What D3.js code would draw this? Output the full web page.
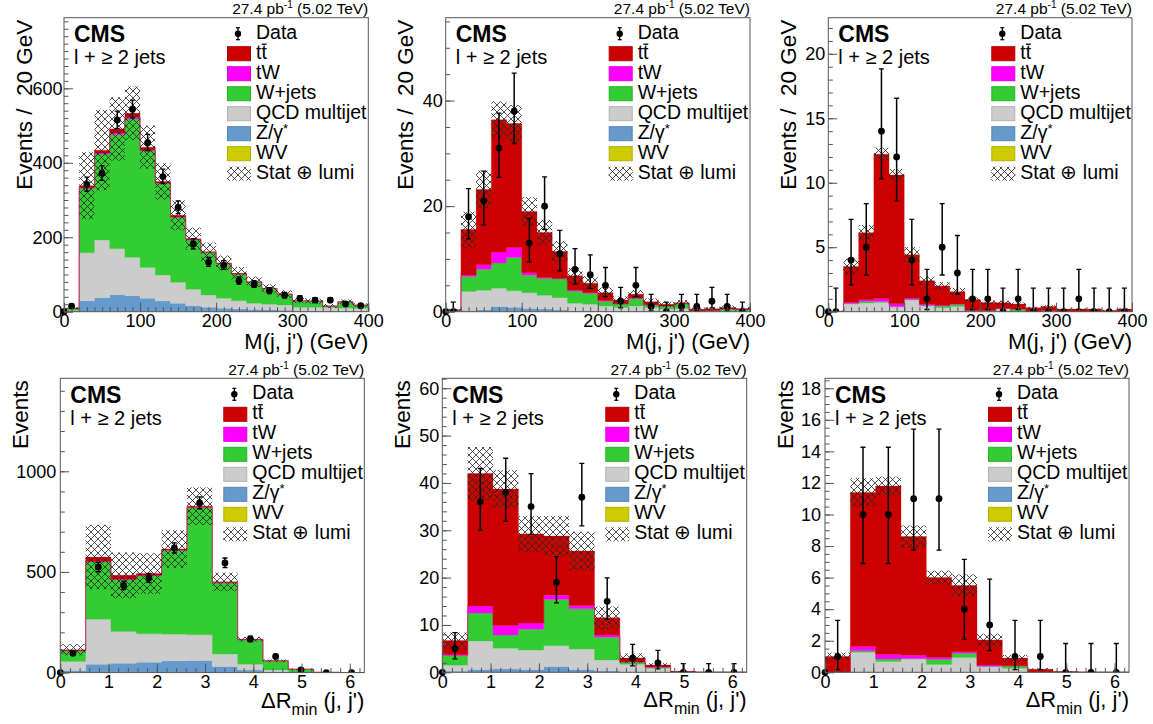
<!DOCTYPE html>
<html><head><meta charset="utf-8">
<script src="https://cdn.jsdelivr.net/npm/d3@7"></script>
<style>
body{margin:0;background:#fff;}
svg text{font-family:"Liberation Sans", Arial, Helvetica, sans-serif; white-space:pre;}
</style></head><body>
<svg id="c" width="1153" height="724"></svg>
<script>
// ---------- processes (stack order bottom -> top) ----------
const keys = ["WV","Z","QCD","W","tW","tt"];
const colors = {WV:"#cccc00", Z:"#6699cc", QCD:"#cccccc", W:"#33cc33", tW:"#ff00ff", tt:"#cc0000"};
const legendLabels = ["Data","tt","tW","W+jets","QCD multijet","Z/γ*","WV","Stat ⊕ lumi"];

// ---------- Panel 1: M(j,j'), 20 bins 0-400 ----------
const p1_WV  = [0,0.5,0.6,0.7,0.6,0.5,0.4,0.3,0.2,0.2,0.1,0.1,0.1,0.1,0.1,0,0,0,0,0];
const p1_Z   = [1,29,37,45,42.4,35.3,28.3,22.1,15.8,11.8,8.9,6.9,5.9,4.9,3.9,2,2,2,2,1.5];
const p1_QCD = [2,129,154.9,123.3,103,83.2,69.8,56.4,44,33,27,22.5,16.5,15,14,10,10,9,8,7.5];
const p1_W   = [6,172.5,231.1,307,371.6,312.6,246.3,174.6,132.5,114,93,71.5,56.5,42,29,17,16.5,4,16.5,8.8];
const p1_tW  = [0,2,2.4,4,4.4,2.4,1.2,1.1,1,0.5,0.5,0.5,0.5,0.3,0.2,0.2,0.1,0.1,0.2,0.1];
const p1_tt  = [0,5.5,8,11,11,8,4,4.3,2.5,1.5,1.5,1.5,1.1,0.5,0.3,0.3,0.1,0.2,0.2,0.1];
const p1_unc = [3,90,108,85,72,58,49,40,30,25,20,17,14,11,10,7,7,5,6,5];
const p1_data= [15,342,372,515,544,454,363,280,182,133,125,83,74,56,44,36,31,31,21,16];

// ---------- Panel 2 ----------
const p2_WV  = [0,0.05,0.05,0.05,0.05,0,0,0,0,0,0,0,0,0,0,0,0,0,0,0];
const p2_Z   = [0,0.2,0.3,0.95,0.8,0.6,0.5,0.3,0.2,0.2,0.1,0.1,0.1,0.05,0.05,0.05,0,0,0,0];
const p2_QCD = [0.1,3.6,3.7,3.45,3.1,3.0,2.6,2.35,1.4,1.2,1.0,0.7,1.0,0.75,0.45,0.55,0.1,0.1,0.2,0.2];
const p2_W   = [0.2,2.8,4.0,4.8,6.3,3.3,3.2,3.55,2.3,2.1,0.9,0.65,1.4,0.46,0.57,0.85,0.1,0.1,0.3,0.2];
const p2_tW  = [0,0.3,0.85,2.05,1.9,0.5,0.2,0.1,0.2,0.1,0.1,0.05,0.1,0.04,0.03,0.05,0,0.05,0,0];
const p2_tt  = [0.05,8.6,14.25,25.05,23.5,11.6,8.5,5.1,2.7,1.8,1.5,0.7,0.7,0.6,0.3,0.2,0.25,0.3,0.3,0.2];
const p2_unc = [0.2,3.4,3.6,3.5,3.5,2.7,2.4,2,1.5,1.3,1,0.7,0.8,0.6,0.5,0.5,0.3,0.3,0.4,0.3];
const p2_data= [0,18,21,31,38,13,20,11,8,7,5,2,5,1,0,1,1,2,1,0];

// ---------- Panel 3 ----------
const p3_WV  = [0,0,0,0,0,0,0,0,0,0,0,0,0,0,0,0,0,0,0,0];
const p3_Z   = [0,0.01,0.02,0.02,0.01,0.01,0,0,0,0,0,0,0,0,0,0,0,0,0,0];
const p3_QCD = [0,0.6,0.65,0.7,0.35,0.9,0.45,0.3,0.4,0.05,0.05,0.25,0.05,0,0.05,0,0,0,0,0];
const p3_W   = [0,0.02,0.13,0.08,0.05,0.05,0.05,0.15,0.17,0.05,0.05,0,0.15,0,0.05,0,0,0,0,0];
const p3_tW  = [0,0.08,0.12,0.22,0.2,0.1,0.1,0.05,0.03,0,0,0,0,0,0,0,0,0,0,0];
const p3_tt  = [0.05,2.8,5.2,11.2,10.0,3.35,1.8,1.5,0.95,0.85,0.62,0.45,0.4,0.3,0.3,0.2,0.2,0.2,0.1,0.2];
const p3_unc = [0.05,0.6,0.6,0.5,0.45,0.6,0.35,0.3,0.3,0.15,0.15,0.15,0.12,0.08,0.1,0.05,0.05,0.05,0.04,0.06];
const p3_data= [0,4,5,14,12,4,1,5,3,1,1,0,1,0,0,0,1,0,0,0];

// ---------- Panel 4: ΔR_min, 12 bins 0-6.3 ----------
const p4_WV  = [0,1,1,1,1,1,0.5,0.2,0,0,0,0];
const p4_Z   = [10,40.5,45.4,50.5,57,59,29.5,12.8,5,1,0,0];
const p4_QCD = [45,223.5,157.6,140.9,133,127.7,63,28.5,8,2,0.5,0];
const p4_W   = [53,284,257,288.6,416,630.9,352,121,45,13.6,1,0.3];
const p4_tW  = [1,3,3,2,2,2.4,2,0.5,0.2,0.1,0,0];
const p4_tt  = [4,22,19,9,5,6,4,3,0.3,0.1,0,0];
const p4_unc = [28,160,114,101,94,93,46,12,7,2,0.5,0.2];
const p4_data= [96,524,433,470,619,843,545,167,80,13,0,0];

// ---------- Panel 5 ----------
const p5_WV  = [0,0,0,0,0,0,0,0,0,0,0,0];
const p5_Z   = [0.2,0.6,0.7,0.6,1.2,0.6,0.3,0.1,0.05,0,0,0];
const p5_QCD = [1.3,6.0,4.4,4.1,4.4,4.3,2.3,1.6,0.8,0.05,0,0];
const p5_W   = [2.0,5.9,2.8,4.4,9.8,8.5,4.8,0.4,0.2,0.05,0,0];
const p5_tW  = [0.2,1.5,2.0,1.3,0.9,0.7,0.5,0.1,0.05,0,0,0];
const p5_tt  = [3.0,28,28.8,18.8,12.5,11.5,3.6,0.8,0.45,0.1,0.05,0];
const p5_unc = [1.7,5.6,4,3.8,4.2,4.1,2.4,1,0.4,0.1,0.02,0];
const p5_data= [5,36,38,35,19,37,15,3,2,0,0,0];

// ---------- Panel 6 ----------
const p6_WV  = [0,0,0,0,0,0,0,0,0,0,0,0];
const p6_Z   = [0,0.05,0,0,0,0,0,0,0,0,0,0];
const p6_QCD = [0,1.22,0.68,0.85,0.5,0.93,0.36,0.25,0,0,0,0];
const p6_W   = [0,0.1,0.17,0.02,0.32,0.27,0.02,0.15,0.02,0,0,0];
const p6_tW  = [0,0.26,0.29,0.21,0.13,0.1,0.08,0.02,0,0,0,0];
const p6_tt  = [1.0,9.77,10.66,7.52,5.05,4.2,1.59,0.48,0.18,0.05,0,0];
const p6_unc = [0.25,0.9,0.6,0.7,0.45,0.7,0.4,0.2,0.05,0.02,0,0];
const p6_data= [1,10,10,11,11,4,3,1,1,0,0,0];

// ---------- axis ticks ----------
const mass_xticks = [0,100,200,300,400];
const dr_xticks = [0,1,2,3,4,5,6];
const p1_yticks = [0,200,400,600];
const p2_yticks = [0,20,40];
const p3_yticks = [0,5,10,15,20];
const p4_yticks = [0,500,1000];
const p5_yticks = [0,10,20,30,40,50,60];
const p6_yticks = [0,2,4,6,8,10,12,14,16,18];

const massTitle = "M(j, j') (GeV)";
const lumiText = ["27.4 pb", "-1", " (5.02 TeV)"];

const panels = [
  {x0:64, y0:17.7, w:304.3, h:294, xdom:[0,400], ymax:789.7, ypad:1.5,
   stack:[p1_WV,p1_Z,p1_QCD,p1_W,p1_tW,p1_tt], unc:p1_unc, data:p1_data,
   yt:p1_yticks, ym:20, xt:mass_xticks, xm:10, ytitle:"Events /  20 GeV", xtype:"mass"},
  {x0:445.7, y0:17.7, w:304.3, h:294, xdom:[0,400], ymax:55.7, ypad:3,
   stack:[p2_WV,p2_Z,p2_QCD,p2_W,p2_tW,p2_tt], unc:p2_unc, data:p2_data,
   yt:p2_yticks, ym:5, xt:mass_xticks, xm:10, ytitle:"Events /  20 GeV", xtype:"mass"},
  {x0:828.3, y0:17.7, w:303.7, h:294, xdom:[0,400], ymax:22.8, ypad:3,
   stack:[p3_WV,p3_Z,p3_QCD,p3_W,p3_tW,p3_tt], unc:p3_unc, data:p3_data,
   yt:p3_yticks, ym:1, xt:mass_xticks, xm:10, ytitle:"Events /  20 GeV", xtype:"mass"},
  {x0:60.3, y0:378.3, w:304, h:294.3, xdom:[0,6.3], ymax:1462, ypad:4,
   stack:[p4_WV,p4_Z,p4_QCD,p4_W,p4_tW,p4_tt], unc:p4_unc, data:p4_data,
   yt:p4_yticks, ym:100, xt:dr_xticks, xm:0.2, ytitle:"Events", xtype:"dr"},
  {x0:442.3, y0:378.3, w:304.4, h:294, xdom:[0,6.3], ymax:62.1, ypad:3,
   stack:[p5_WV,p5_Z,p5_QCD,p5_W,p5_tW,p5_tt], unc:p5_unc, data:p5_data,
   yt:p5_yticks, ym:2, xt:dr_xticks, xm:0.2, ytitle:"Events", xtype:"dr"},
  {x0:825, y0:378.3, w:304, h:294, xdom:[0,6.3], ymax:18.63, ypad:4,
   stack:[p6_WV,p6_Z,p6_QCD,p6_W,p6_tW,p6_tt], unc:p6_unc, data:p6_data,
   yt:p6_yticks, ym:0.5, xt:dr_xticks, xm:0.2, ytitle:"Events", xtype:"dr"}
];

const svg = d3.select("#c");
const defs = svg.append("defs");
const pat = defs.append("pattern").attr("id","hatch").attr("patternUnits","userSpaceOnUse")
  .attr("width",7).attr("height",7);
pat.append("path").attr("d","M0,0L7,7M7,0L0,7").attr("stroke","#222").attr("stroke-width",0.8).attr("fill","none");

const frameCol = "#555";

function garwood(n){
  const lo = n===0 ? 0 : n*Math.pow(1-1/(9*n)-1/(3*Math.sqrt(n)),3);
  const hi = (n+1)*Math.pow(1-1/(9*(n+1))+1/(3*Math.sqrt(n+1)),3);
  return [lo, hi];
}

function minorTicks(max, step){
  const out=[]; for(let v=0; v<=max+1e-9; v+=step) out.push(+v.toFixed(6)); return out;
}

panels.forEach((cfg, pi) => {
  const g = svg.append("g");
  const x0=cfg.x0, y0=cfg.y0, x1=cfg.x0+cfg.w, y1=cfg.y0+cfg.h;
  const x = d3.scaleLinear().domain(cfg.xdom).range([x0, x1]);
  const y = d3.scaleLinear().domain([0, cfg.ymax]).range([y1, y0]);
  const nb = cfg.data.length;
  const bw = (cfg.xdom[1]-cfg.xdom[0])/nb;
  const clipId = "clip"+pi;
  defs.append("clipPath").attr("id",clipId).append("rect")
    .attr("x",x0).attr("y",y0).attr("width",cfg.w).attr("height",cfg.h);
  const pg = g.append("g").attr("clip-path",`url(#${clipId})`);

  // stacked histogram
  const rows = d3.range(nb).map(i => { const r={}; keys.forEach((k,j)=> r[k]=cfg.stack[j][i]); return r; });
  const series = d3.stack().keys(keys)(rows);
  const area = d3.area().curve(d3.curveStepAfter)
    .x(d=>x(d.x)).y0(d=>y(d.y0)).y1(d=>y(d.y1));
  series.forEach(s => {
    const pts = s.map((d,i)=>({x:cfg.xdom[0]+i*bw, y0:d[0], y1:d[1]}));
    pts.push({x:cfg.xdom[0]+nb*bw, y0:s[nb-1][0], y1:s[nb-1][1]});
    pg.append("path").attr("d", area(pts)).attr("fill", colors[s.key])
      .attr("stroke", colors[s.key]).attr("stroke-width",0.3);
  });

  // uncertainty band
  const totals = rows.map(r => keys.reduce((a,k)=>a+r[k],0));
  totals.forEach((t,i) => {
    const u = cfg.unc[i];
    if(u<=0) return;
    const lo = Math.max(0, t-u), hi = t+u;
    pg.append("rect").attr("x", x(cfg.xdom[0]+i*bw)).attr("width", x(cfg.xdom[0]+(i+1)*bw)-x(cfg.xdom[0]+i*bw))
      .attr("y", y(hi)).attr("height", y(lo)-y(hi)).attr("fill","url(#hatch)");
  });

  // data
  const dg = pg.append("g");
  cfg.data.forEach((n,i) => {
    const cx = x(cfg.xdom[0]+(i+0.5)*bw);
    const [lo,hi] = garwood(n);
    dg.append("line").attr("x1",cx).attr("x2",cx).attr("y1",y(lo)).attr("y2",y(hi))
      .attr("stroke","#000").attr("stroke-width",1.5);
    [lo,hi].forEach(v => {
      if(v===n) return;
      dg.append("line").attr("x1",cx-2.5).attr("x2",cx+2.5).attr("y1",y(v)).attr("y2",y(v))
        .attr("stroke","#000").attr("stroke-width",1.3);
    });
    dg.append("circle").attr("cx",cx).attr("cy",y(n)).attr("r",3.4).attr("fill","#000");
  });
  // point at the lower edge of the axis
  g.append("circle").attr("cx",x(cfg.xdom[0])).attr("cy",y(0)).attr("r",3.4).attr("fill","#000");

  // axes (ticks inside)
  const styleAxis = sel => {
    sel.select(".domain").remove();
    sel.selectAll("line").attr("stroke",frameCol);
    sel.selectAll("text").attr("font-size","18px").attr("font-family","Liberation Sans, Arial, sans-serif").attr("fill","#000");
  };
  g.append("g").attr("transform",`translate(${x0},0)`)
    .call(d3.axisLeft(y).tickValues(minorTicks(cfg.ymax, cfg.ym)).tickSize(-4.5).tickFormat(""))
    .call(styleAxis);
  g.append("g").attr("transform",`translate(${x0},0)`)
    .call(d3.axisLeft(y).tickValues(cfg.yt).tickSize(-9).tickPadding(cfg.ypad).tickFormat(d3.format("d")))
    .call(styleAxis);
  g.append("g").attr("transform",`translate(0,${y1})`)
    .call(d3.axisBottom(x).tickValues(minorTicks(cfg.xdom[1], cfg.xm)).tickSize(-4.5).tickFormat(""))
    .call(styleAxis);
  g.append("g").attr("transform",`translate(0,${y1})`)
    .call(d3.axisBottom(x).tickValues(cfg.xt).tickSize(-9).tickPadding(3).tickFormat(d3.format("d")))
    .call(styleAxis);

  // frame
  g.append("rect").attr("x",x0).attr("y",y0).attr("width",cfg.w).attr("height",cfg.h)
    .attr("fill","none").attr("stroke",frameCol).attr("stroke-width",1);

  // lumi text
  const lt = g.append("text").attr("x",x1).attr("y",y0-3.5).attr("text-anchor","end").attr("font-size","15.5px");
  lt.append("tspan").text(lumiText[0]);
  lt.append("tspan").attr("dy",-6).attr("font-size","10px").text(lumiText[1]);
  lt.append("tspan").attr("dy",6).text(lumiText[2]);

  // CMS & selection
  g.append("text").attr("x",x0+10).attr("y",y0+24.5).attr("font-weight","bold").attr("font-size","23px").text("CMS");
  g.append("text").attr("x",x0+10).attr("y",y0+46.5).attr("font-size","20px").text("l + ≥ 2 jets");

  // y title
  g.append("text").attr("transform",`translate(${x0-32.5},${y0+2}) rotate(-90)`)
    .attr("text-anchor","end").attr("font-size","22.5px").attr("xml:space","preserve").text(cfg.ytitle);

  // x title
  if(cfg.xtype==="mass"){
    g.append("text").attr("x",x1).attr("y",y1+37).attr("text-anchor","end").attr("font-size","22px").text(massTitle);
  } else {
    const xt = g.append("text").attr("x",x1).attr("y",y1+35).attr("text-anchor","end").attr("font-size","22px");
    xt.append("tspan").text("ΔR");
    xt.append("tspan").attr("dy",7).attr("font-size","16px").text("min");
    xt.append("tspan").attr("dy",-7).text(" (j, j')");
  }

  // legend
  const lg = g.append("g");
  const bx = x0+163, tx = x0+192;
  legendLabels.forEach((lab,i) => {
    const by = y0+21+20*i;
    if(i===0){
      const mx = x0+174, my = by-5;
      lg.append("line").attr("x1",mx).attr("x2",mx).attr("y1",my-6).attr("y2",my+6).attr("stroke","#000").attr("stroke-width",1.3);
      [my-6,my+6].forEach(v=>lg.append("line").attr("x1",mx-2).attr("x2",mx+2).attr("y1",v).attr("y2",v).attr("stroke","#000").attr("stroke-width",1.2));
      lg.append("circle").attr("cx",mx).attr("cy",my).attr("r",3.2).attr("fill","#000");
    } else if(i===7){
      lg.append("rect").attr("x",bx).attr("y",by-12).attr("width",24).attr("height",14).attr("fill","url(#hatch)");
    } else {
      const k = keys[6-i];
      lg.append("rect").attr("x",bx+0.5).attr("y",by-12).attr("width",23).attr("height",14)
        .attr("fill",colors[k]).attr("stroke",d3.color(colors[k]).darker(0.4)).attr("stroke-width",1);
    }
    const t = lg.append("text").attr("x",tx).attr("y",by).attr("font-size","19.5px");
    if(i===1){
      t.text("tt");
      const node = t.node();
      const sx = node.getStartPositionOfChar(1).x;
      const ex = node.getEndPositionOfChar(1).x;
      lg.append("line").attr("x1",sx+0.3).attr("x2",ex-0.3).attr("y1",by-14.5).attr("y2",by-14.5)
        .attr("stroke","#000").attr("stroke-width",1.3);
    } else if(i===5){
      t.append("tspan").text("Z/γ");
      t.append("tspan").attr("dy",-6).attr("font-size","13px").text("*");
    } else {
      t.text(lab);
    }
  });
});
</script>
</body></html>
